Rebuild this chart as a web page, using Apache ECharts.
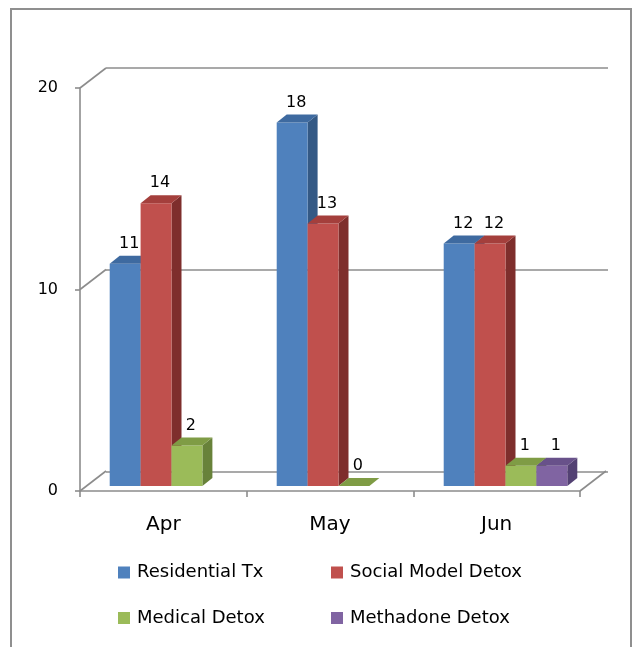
<!DOCTYPE html>
<html>
<head>
<meta charset="utf-8">
<script src="https://cdn.jsdelivr.net/npm/echarts@6/dist/echarts.min.js"></script>
<style>
  html, body { margin: 0; padding: 0; background: #fff; }
  #main { width: 634px; height: 647px; }
</style>
</head>
<body>
<div id="main"></div>
<script>
// data
var months = ["Apr", "May", "Jun"];
var seriesNames = ["Residential Tx", "Social Model Detox", "Medical Detox", "Methadone Detox"];
var residentialTx = [11, 18, 12];
var socialModelDetox = [14, 13, 12];
var medicalDetox = [2, 0, 1];
var methadoneDetox = [null, null, 1];
var yTicks = [0, 10, 20];

// front / top / side shades for each series
var frontColors = ["#4f81bd", "#c0504d", "#9bbb59", "#8064a2"];
var topColors = ["#3e6aa0", "#a43f3c", "#7f9c45", "#68518a"];
var sideColors = ["#345985", "#7e2e2c", "#68823a", "#534173"];

var FONT = '"DejaVu Sans", sans-serif';
var WALL_DX = 26, WALL_DY = -20; // depth of the floor / walls
var BAR_DX = 10, BAR_DY = -8;    // depth of each bar
var gridColor = "#8c8c8c";

var myChart = echarts.init(document.getElementById("main"), null, { renderer: "canvas" });

function barRenderer(k) {
  return function (params, api) {
    var v = api.value(1);
    if (v === null || v === undefined || isNaN(v)) return;
    var idx = api.value(0);
    var band = api.size([1, 0])[0];
    var w = band * 0.74 / 4;
    var base = api.coord([idx, 0]);
    var yt = api.coord([idx, v])[1];
    var yb = base[1];
    var x0 = base[0] - 2 * w + k * w;
    var x1 = x0 + w;
    return {
      type: "group",
      children: [
        {
          type: "polygon",
          shape: { points: [[x1, yt], [x1 + BAR_DX, yt + BAR_DY], [x1 + BAR_DX, yb + BAR_DY], [x1, yb]] },
          style: { fill: sideColors[k] }
        },
        {
          type: "rect",
          shape: { x: x0, y: yt, width: w, height: yb - yt },
          style: { fill: frontColors[k] }
        },
        {
          type: "polygon",
          shape: { points: [[x0, yt], [x0 + BAR_DX, yt + BAR_DY], [x1 + BAR_DX, yt + BAR_DY], [x1, yt]] },
          style: { fill: topColors[k] }
        },
        {
          type: "text",
          style: {
            text: String(v),
            x: x0 + w / 2 + BAR_DX / 2 - 1,
            y: yt + BAR_DY - 4,
            align: "center",
            verticalAlign: "bottom",
            fill: "#000",
            font: "16px " + FONT
          }
        }
      ]
    };
  };
}

// diagonal edges joining front axis ticks to the back wall
function wallEdges(params, api) {
  var v = api.value(1);
  var cs = params.coordSys;
  var y = api.coord([0, v])[1];
  var lines = [{
    type: "line",
    shape: { x1: cs.x, y1: y, x2: cs.x + WALL_DX, y2: y + WALL_DY },
    style: { stroke: gridColor, lineWidth: 1.6 }
  }];
  if (v === 0) {
    var xr = cs.x + cs.width;
    lines.push({
      type: "line",
      shape: { x1: xr, y1: y, x2: xr + WALL_DX, y2: y + WALL_DY },
      style: { stroke: gridColor, lineWidth: 1.6 }
    });
  }
  return { type: "group", children: lines };
}

var seriesData = [residentialTx, socialModelDetox, medicalDetox, methadoneDetox];

var series = [
  {
    type: "custom",
    xAxisIndex: 0,
    yAxisIndex: 0,
    silent: true,
    renderItem: wallEdges,
    data: yTicks.map(function (t) { return [0, t]; }),
    z: 1
  }
];
seriesData.forEach(function (arr, k) {
  series.push({
    name: seriesNames[k],
    type: "custom",
    xAxisIndex: 2,
    yAxisIndex: 2,
    renderItem: barRenderer(k),
    encode: { x: 0, y: 1 },
    itemStyle: { color: frontColors[k] },
    clip: false,
    data: arr.map(function (v, i) { return [i, v]; }),
    z: 3
  });
});

var legendFont = 18;
var legendPos = [[118, 572.5], [331, 572.5], [118, 618], [331, 618]];
var legends = seriesNames.map(function (n, k) {
  return {
    data: [n],
    left: legendPos[k][0],
    top: legendPos[k][1] - legendFont / 2,
    icon: "rect",
    itemWidth: 12,
    itemHeight: 12,
    padding: 0,
    selectedMode: false,
    textStyle: { fontFamily: FONT, fontSize: legendFont, color: "#000", padding: [0, 0, 0, 2] }
  };
});

var option = {
  animation: false,
  backgroundColor: "#fff",
  graphic: [{
    type: "rect",
    silent: true,
    shape: { x: 11, y: 9, width: 620, height: 700 },
    style: { fill: "none", stroke: "#8f8f8f", lineWidth: 2 },
    z: 0
  }],
  legend: legends,
  grid: [
    { left: 80, top: 88, width: 500, height: 403 },   // front axes
    { left: 106, top: 68, width: 502, height: 404 },  // back wall
    { left: 88, top: 82, width: 501, height: 404 }    // bars (mid depth)
  ],
  xAxis: [
    {
      gridIndex: 0,
      type: "category",
      data: months,
      axisLine: { lineStyle: { color: gridColor, width: 1.6 } },
      axisTick: { show: true, length: 6, lineStyle: { color: gridColor, width: 1.6 } },
      axisLabel: { color: "#000", fontFamily: FONT, fontSize: 20, margin: 24 }
    },
    { gridIndex: 1, type: "category", data: months, show: false },
    { gridIndex: 2, type: "category", data: months, show: false }
  ],
  yAxis: [
    {
      gridIndex: 0,
      type: "value",
      min: 0,
      max: 20,
      interval: 10,
      axisLine: { show: true, lineStyle: { color: gridColor, width: 1.6 } },
      axisTick: { show: true, length: 5, lineStyle: { color: gridColor, width: 1.6 } },
      axisLabel: { color: "#000", fontFamily: FONT, fontSize: 16, margin: 22 },
      splitLine: { show: false }
    },
    {
      gridIndex: 1,
      type: "value",
      min: 0,
      max: 20,
      interval: 10,
      axisLine: { show: false },
      axisTick: { show: false },
      axisLabel: { show: false },
      splitLine: { show: true, lineStyle: { color: gridColor, width: 1.6 } }
    },
    { gridIndex: 2, type: "value", min: 0, max: 20, interval: 10, show: false }
  ],
  series: series
};

myChart.setOption(option);
</script>
</body>
</html>
